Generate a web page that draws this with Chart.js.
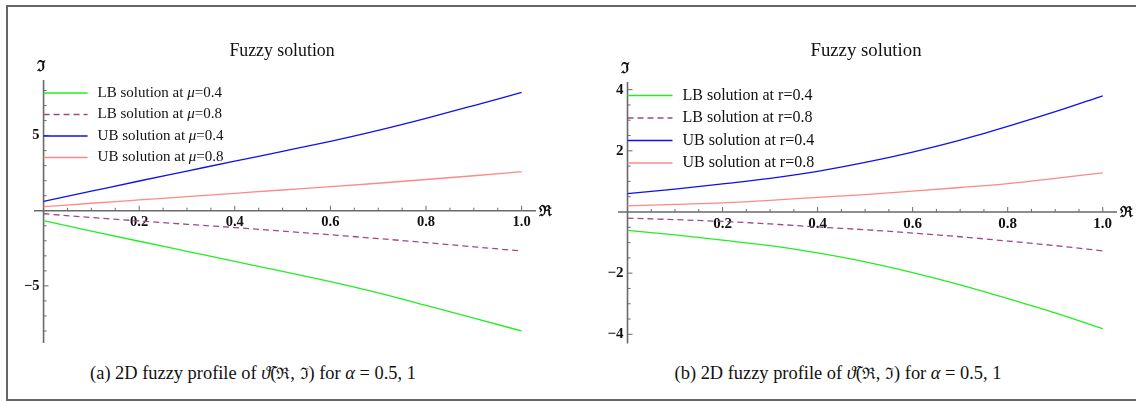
<!DOCTYPE html>
<html>
<head>
<meta charset="utf-8">
<script src="https://cdn.jsdelivr.net/npm/chart.js@4.4.1/dist/chart.umd.min.js"></script>
<style>
  body { margin: 0; background: #fff; }
  #page { position: relative; width: 1136px; height: 401px; overflow: hidden; background: #fff; }
  #frame { position: absolute; left: 6px; top: 5px; width: 1140px; height: 392px;
           border: 2px solid #666; border-right: none; }
  canvas { position: absolute; top: 0; }
  .cap { position: absolute; top: 362px; font: 18.4px "Liberation Serif", serif; color: #111;
         white-space: nowrap; transform: translateX(-50%); }
  .cap i { font-style: italic; }
  .frak { font-family: "DejaVu Serif", serif; font-size: 16px; }
</style>
</head>
<body>
<div id="page">
  <div id="frame"></div>
  <canvas id="leftChart" width="568" height="345" style="left:0px"></canvas>
  <canvas id="rightChart" width="568" height="345" style="left:568px"></canvas>
  <div class="cap" style="left:253px">(a) 2D fuzzy profile of <i>ϑ̃</i>(<span class="frak">ℜ</span>, <span class="frak">ℑ</span>) for <i>α</i> = 0.5, 1</div>
  <div class="cap" style="left:838px">(b) 2D fuzzy profile of <i>ϑ̃</i>(<span class="frak">ℜ</span>, <span class="frak">ℑ</span>) for <i>α</i> = 0.5, 1</div>
</div>
<script>
// R values shared by both panels
const xVals = [0, 0.1, 0.2, 0.3, 0.4, 0.5, 0.6, 0.7, 0.8, 0.9, 1.0];

// panel (a): mu
const leftLB04 = [-0.65, -1.35, -2.03, -2.7, -3.37, -4.03, -4.72, -5.47, -6.3, -7.15, -8.0];
const leftLB08 = [-0.2, -0.45, -0.68, -0.9, -1.12, -1.36, -1.6, -1.85, -2.12, -2.4, -2.68];
const leftUB04 = [0.62, 1.3, 1.98, 2.64, 3.3, 3.95, 4.62, 5.35, 6.15, 7.0, 7.87];
const leftUB08 = [0.27, 0.5, 0.72, 0.94, 1.16, 1.38, 1.6, 1.83, 2.08, 2.33, 2.6];

// panel (b): r
const rightLB04 = [-0.6, -0.75, -0.92, -1.1, -1.34, -1.63, -1.98, -2.38, -2.83, -3.3, -3.82];
const rightLB08 = [-0.2, -0.25, -0.31, -0.39, -0.49, -0.58, -0.69, -0.81, -0.95, -1.1, -1.27];
const rightUB04 = [0.6, 0.75, 0.92, 1.1, 1.33, 1.62, 1.96, 2.35, 2.8, 3.28, 3.8];
const rightUB08 = [0.2, 0.25, 0.3, 0.38, 0.48, 0.57, 0.68, 0.8, 0.93, 1.1, 1.28];

const xTickLabels = [0.2, 0.4, 0.6, 0.8, 1.0];
const leftYTickLabels = [-5, 5];
const rightYTickLabels = [-4, -2, 2, 4];

const legendNames = ["LB solution at ", "LB solution at ", "UB solution at ", "UB solution at "];
const legendParams = ["0.4", "0.8", "0.4", "0.8"];

function toPoints(arr) {
    return xVals.map((x, i) => ({ x: x, y: arr[i] }));
}

function makeDatasets(lb04, lb08, ub04, ub08) {
    const base = { fill: false, pointRadius: 0, borderWidth: 1.3, tension: 0.4, cubicInterpolationMode: 'monotone' };
    return [
        Object.assign({ data: toPoints(lb04), borderColor: "#22ee22" }, base),
        Object.assign({ data: toPoints(lb08), borderColor: "#a04a80", borderDash: [6, 4] }, base),
        Object.assign({ data: toPoints(ub04), borderColor: "#1010ee" }, base),
        Object.assign({ data: toPoints(ub08), borderColor: "#ff8888" }, base)
    ];
}

// Mathematica-like axes through the origin, title and legend
const mathAxes = {
    id: 'mathAxes',
    beforeDatasetsDraw(chart, args, opts) {
        const ctx = chart.ctx;
        const xs = chart.scales.x, ys = chart.scales.y;
        const x0 = xs.getPixelForValue(0), y0 = ys.getPixelForValue(0);
        const area = chart.chartArea;
        ctx.save();
        ctx.strokeStyle = "#6a6a6a";
        ctx.lineWidth = 1.6;
        ctx.beginPath();
        ctx.moveTo(area.left, y0); ctx.lineTo(area.right, y0);
        ctx.moveTo(x0, area.top); ctx.lineTo(x0, area.bottom);
        ctx.stroke();

        ctx.lineWidth = 1;
        ctx.beginPath();
        for (let i = 1; i <= 20; i++) {
            const v = i * 0.05;
            const px = xs.getPixelForValue(v);
            const len = (i % 4 === 0) ? 5 : 3;
            ctx.moveTo(px, y0); ctx.lineTo(px, y0 - len);
        }
        for (let v = -opts.yMax; v <= opts.yMax + 1e-9; v += opts.yMinor) {
            if (Math.abs(v) < 1e-9) continue;
            const py = ys.getPixelForValue(v);
            const isMajor = Math.abs(v / opts.yMajor - Math.round(v / opts.yMajor)) < 1e-6;
            ctx.moveTo(x0, py); ctx.lineTo(x0 + (isMajor ? 5 : 3), py);
        }
        ctx.stroke();

        ctx.fillStyle = "#111";
        ctx.font = "bold " + opts.tickSize + "px 'Liberation Serif', serif";
        ctx.textAlign = "center";
        ctx.textBaseline = "middle";
        xTickLabels.forEach(v => {
            ctx.fillText(v.toFixed(1), xs.getPixelForValue(v), y0 + 12);
        });
        ctx.textAlign = "right";
        opts.yLabels.forEach(v => {
            const txt = v < 0 ? "\u2212" + Math.abs(v) : String(v);
            ctx.fillText(txt, x0 - 4, ys.getPixelForValue(v));
        });

        ctx.font = "bold 15px 'DejaVu Serif', serif";
        ctx.textAlign = "left";
        ctx.fillText("\u211C", xs.getPixelForValue(1.03) + 3, y0 + 1);
        ctx.textAlign = "center";
        ctx.fillText("\u2111", x0 - 3, area.top - 13);

        ctx.font = opts.titleSize + "px 'Liberation Serif', serif";
        ctx.fillText("Fuzzy solution", opts.titleX, 51);
        ctx.restore();
    },
    afterDatasetsDraw(chart, args, opts) {
        const ctx = chart.ctx;
        const x0 = chart.scales.x.getPixelForValue(0);
        const f = opts.legendSize + "px 'Liberation Serif', serif";
        ctx.save();
        chart.data.datasets.forEach((ds, i) => {
            const y = opts.legendY[i];
            ctx.strokeStyle = ds.borderColor;
            ctx.lineWidth = 1.3;
            ctx.setLineDash(ds.borderDash || []);
            ctx.beginPath();
            ctx.moveTo(x0, y); ctx.lineTo(x0 + opts.legendLine, y);
            ctx.stroke();
            ctx.setLineDash([]);
            ctx.fillStyle = "#111";
            ctx.textBaseline = "middle";
            ctx.textAlign = "left";
            let tx = x0 + opts.legendLine + 10;
            ctx.font = f;
            ctx.fillText(legendNames[i], tx, y);
            tx += ctx.measureText(legendNames[i]).width;
            ctx.font = opts.paramItalic ? "italic " + f : f;
            ctx.fillText(opts.param, tx, y);
            tx += ctx.measureText(opts.param).width;
            ctx.font = f;
            ctx.fillText("=" + legendParams[i], tx, y);
        });
        ctx.restore();
    }
};

function makeChart(id, datasets, padding, yMin, yMax, axesOpts) {
    return new Chart(document.getElementById(id), {
        type: 'line',
        data: { datasets: datasets },
        options: {
            responsive: false,
            animation: false,
            layout: { padding: padding },
            scales: {
                x: { type: 'linear', min: -0.02, max: 1.03, display: false },
                y: { type: 'linear', min: yMin, max: yMax, display: false }
            },
            plugins: {
                legend: { display: false },
                tooltip: { enabled: false },
                mathAxes: axesOpts
            }
        },
        plugins: [mathAxes]
    });
}

makeChart('leftChart', makeDatasets(leftLB04, leftLB08, leftUB04, leftUB08),
    { left: 34, right: 32, top: 80, bottom: 2 }, -8.8, 8.7,
    { yMax: 8, yMinor: 1, yMajor: 5, yLabels: leftYTickLabels, titleX: 282, titleSize: 17.8,
      tickSize: 14.5, legendSize: 15,
      legendY: [93, 114.5, 136, 157.5], legendLine: 44, param: "\u03BC", paramItalic: true });

makeChart('rightChart', makeDatasets(rightLB04, rightLB08, rightUB04, rightUB08),
    { left: 50, right: 19, top: 82, bottom: 1.5 }, -4.3, 4.25,
    { yMax: 4, yMinor: 0.5, yMajor: 2, yLabels: rightYTickLabels, titleX: 298, titleSize: 18.8,
      tickSize: 15, legendSize: 16,
      legendY: [95.5, 118, 140.5, 163], legendLine: 45, param: "r", paramItalic: false });
</script>
</body>
</html>
